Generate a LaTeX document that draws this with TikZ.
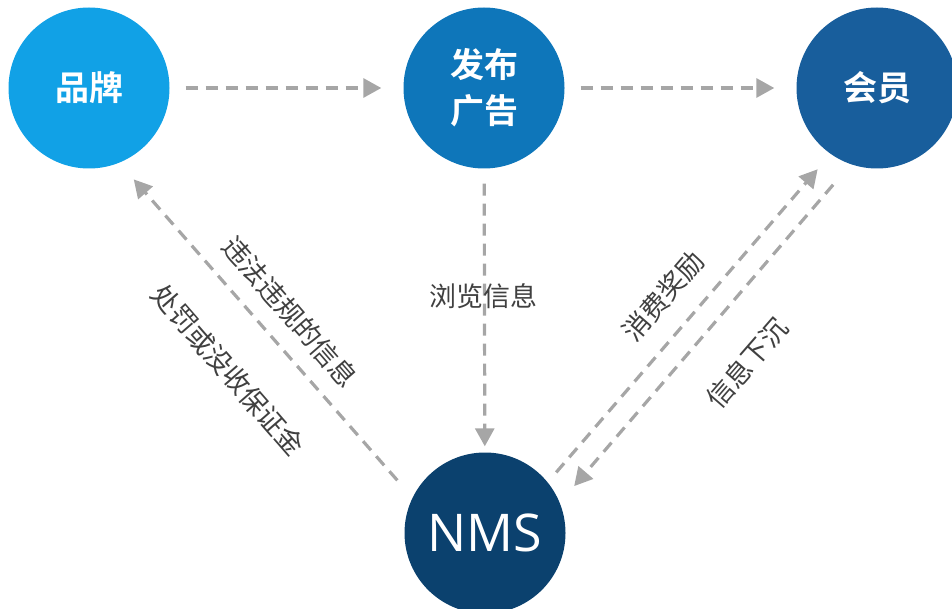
\documentclass[tikz,border=0pt]{standalone}
\usepackage{fontspec}
\setmainfont{Open Sans}
\newfontfamily\cjk{Noto Sans CJK SC}
\newfontfamily\cjkb{Noto Sans CJK SC Bold}
\usetikzlibrary{arrows.meta}
\definecolor{cBrand}{RGB}{17,161,230}
\definecolor{cAd}{RGB}{14,118,186}
\definecolor{cMember}{RGB}{24,94,156}
\definecolor{cNMS}{RGB}{11,65,110}
\definecolor{cLine}{RGB}{166,166,166}
\definecolor{cText}{RGB}{64,64,64}
\tikzset{
  bubble/.style={circle, minimum size=161pt, inner sep=0pt, draw=none, text=white,
    font=\cjkb\fontsize{34}{46}\selectfont, align=center},
  flow/.style={draw=cLine, line width=3.2pt, dash pattern=on 12pt off 8pt,
    -{Triangle[length=18pt,width=19pt]}},
  lbl/.style={text=cText, font=\cjk\fontsize{27}{30}\selectfont, inner sep=0pt}
}
\begin{document}
\begin{tikzpicture}[x=1pt,y=-1pt]
\useasboundingbox (0,0) rectangle (952,609);
\node[bubble, fill=cBrand] (brand) at (89,88) {品牌};
\node[bubble, fill=cAd] (ad) at (484,88) {发布\\广告};
\node[bubble, fill=cMember] (member) at (877,88) {会员};
\node[bubble, fill=cNMS, font=\fontsize{52}{60}\selectfont] (nms) at (485,533) {NMS};

\draw[flow, shorten <=16pt, shorten >=22pt] (brand) -- (ad);
\draw[flow, shorten <=16pt, shorten >=22pt] (ad) -- (member);
\draw[flow, shorten <=15pt, shorten >=6pt] (ad) -- (nms);
\draw[flow, shorten <=23pt, shorten >=22pt] (nms.154) -- (brand.292);
\draw[flow, shorten <=13pt, shorten >=20pt] (nms.39) -- (member.235);
\draw[flow, shorten <=27pt, shorten >=22pt] (member.251.6) -- (nms.22.8);

\node[lbl] (l1) at (483,296) {浏览信息};
\node[lbl, rotate=-49] (l2) at (290,312) {违法违规的信息};
\node[lbl, rotate=-49] (l3) at (228,370) {处罚或没收保证金};
\node[lbl, rotate=49] (l4) at (663,296) {消费奖励};
\node[lbl, rotate=49] (l5) at (747,363) {信息下沉};
\end{tikzpicture}
\end{document}
